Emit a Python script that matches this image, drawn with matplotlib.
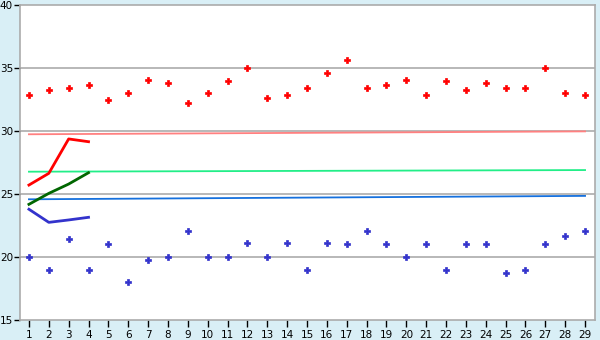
import matplotlib
matplotlib.use("Agg")
import matplotlib.pyplot as plt

days = list(range(1, 30))
upper_pts = [32.83, 33.23, 33.39, 33.63, 32.46, 32.99, 34.02, 33.78, 32.2, 32.99,
             33.94, 34.97, 32.6, 32.83, 33.39, 34.58, 35.61, 33.39, 33.63, 34.02,
             32.83, 33.94, 33.23, 33.78, 33.39, 33.39, 34.97, 32.99, 32.83]
lower_pts = [20.0, 19.0, 21.4, 19.0, 21.0, 18.0, 19.74, 20.0, 22.04, 20.0,
             20.0, 21.1, 20.0, 21.1, 19.0, 21.1, 21.0, 22.04, 21.0, 20.0,
             21.0, 19.0, 21.0, 21.0, 18.7, 19.0, 21.0, 21.64, 22.04]

early_x = [1, 2, 3, 4]
early_red = [25.71, 26.64, 29.37, 29.15]
early_green = [24.18, 25.05, 25.79, 26.69]
early_blue = [23.79, 22.75, 22.94, 23.15]

ref_x = [1, 29]
ref_red = [29.74, 29.97]
ref_green = [26.77, 26.9]
ref_blue = [24.58, 24.85]

yticks = [15, 20, 25, 30, 35, 40]

fig = plt.figure(figsize=(6, 3.4), dpi=100, facecolor="#D9EFF6")
ax = fig.add_axes([20/600, 20/340, 575/600, 315/340])
ax.set_facecolor("white")

for y in [20, 25, 30, 35]:
    ax.axhline(y, color="#ABABAB", lw=1.2, zorder=1)

ax.plot(ref_x, ref_red, color="#FF8080", lw=1.3, zorder=2)
ax.plot(ref_x, ref_green, color="#22EE88", lw=1.3, zorder=2)
ax.plot(ref_x, ref_blue, color="#1570DD", lw=1.3, zorder=2)

ax.plot(early_x, early_red, color="#FF0000", lw=2, zorder=3)
ax.plot(early_x, early_green, color="#006600", lw=2, zorder=3)
ax.plot(early_x, early_blue, color="#3333CC", lw=2, zorder=3)

ax.plot(days, upper_pts, ls="none", marker="P", ms=4.5, color="#FF0000",
        mec="#FF0000", mew=0.5, zorder=4)
ax.plot(days, lower_pts, ls="none", marker="P", ms=4.5, color="#3333CC",
        mec="#3333CC", mew=0.5, zorder=4)

ax.set_xlim(0.55, 29.5)
ax.set_ylim(15, 40)
ax.set_xticks(days)
ax.set_yticks(yticks)
for s in ax.spines.values():
    s.set_color("#ABABAB")
    s.set_linewidth(1.2)
ax.tick_params(axis="both", colors="black", labelsize=7.5, length=5, width=1,
               pad=2)
ax.tick_params(axis="y", length=4, pad=1)
plt.savefig("out.png", dpi=100, facecolor=fig.get_facecolor())
